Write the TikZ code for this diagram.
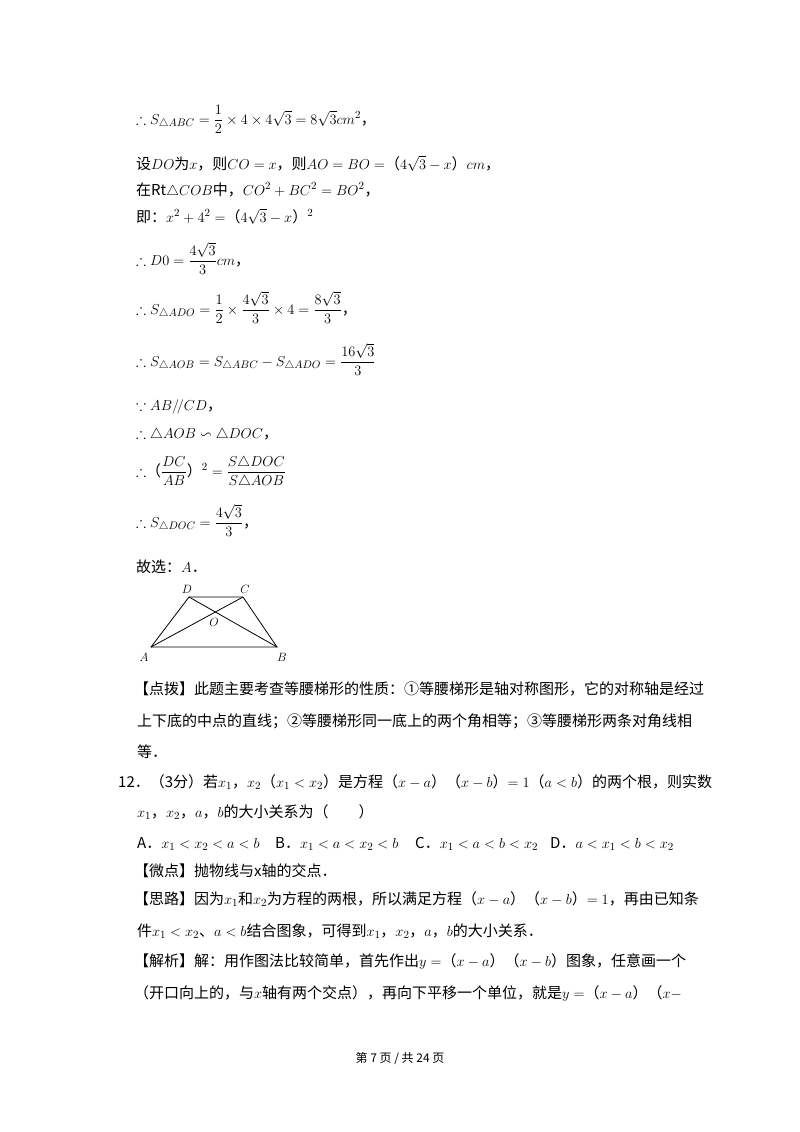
\documentclass[tikz,border=0pt]{standalone}
\usepackage{amsmath,amssymb}
\usepackage{fontspec}
\setmainfont{Noto Sans CJK SC}
\begin{document}
\begin{tikzpicture}[x=1pt,y=-1pt,
  t/.style={anchor=base west,inner sep=0,font=\fontsize{15}{18}\selectfont},
  lab/.style={inner sep=0,font=\fontsize{12}{14}\selectfont}]
\useasboundingbox[fill=white] (0,0) rectangle (800,1132);
\node[t] (l1) at (136,124) {$\therefore S_{\triangle ABC}=\dfrac{1}{2}\times4\times4\sqrt{3}=8\sqrt{3}cm^2$，};
\node[t] (l2) at (136,169) {设$DO$为$x$，则$CO=x$，则$AO=BO=$（$4\sqrt3-x$）$cm$，};
\node[t] (l3) at (136,195) {在$\mathrm{Rt}\triangle COB$中，$CO^2+BC^2=BO^2$，};
\node[t] (l4) at (136,222) {即：$x^2+4^2=$（$4\sqrt3-x$）$^2$};
\node[t] (l5) at (136,265) {$\therefore D0=\dfrac{4\sqrt3}{3}cm$，};
\node[t] (l6) at (136,314) {$\therefore S_{\triangle ADO}=\dfrac12\times\dfrac{4\sqrt3}{3}\times4=\dfrac{8\sqrt3}{3}$，};
\node[t] (l7) at (136,366) {$\therefore S_{\triangle AOB}=S_{\triangle ABC}-S_{\triangle ADO}=\dfrac{16\sqrt3}{3}$};
\node[t] (l8) at (136,410) {$\because AB/\!/CD$，};
\node[t] (l9) at (136,438) {$\therefore\triangle AOB\backsim\triangle DOC$，};
\node[t] (l10) at (136,476) {$\therefore$（$\dfrac{DC}{AB}$）$^2=\dfrac{S\triangle DOC}{S\triangle AOB}$};
\node[t] (l11) at (136,527) {$\therefore S_{\triangle DOC}=\dfrac{4\sqrt3}{3}$，};
\node[t] (l12) at (136,572) {故选：$A$．};
% figure
\coordinate (A) at (151,647);
\coordinate (B) at (277,647);
\coordinate (C) at (243,597);
\coordinate (D) at (189,597);
\draw[thick] (A) -- (B) -- (C) -- (D) -- cycle;
\draw[thick] (A) -- (C);
\draw[thick] (D) -- (B);
\node[lab] (nD) at (187,589) {$D$};
\node[lab] (nC) at (245,589) {$C$};
\node[lab] (nA) at (144,657) {$A$};
\node[lab] (nB) at (282,657) {$B$};
\node[lab] (nO) at (214,622) {$O$};
% text
\node[t] (p1) at (134,694) {【点拨】此题主要考查等腰梯形的性质：①等腰梯形是轴对称图形，它的对称轴是经过};
\node[t] (p2) at (137,726) {上下底的中点的直线；②等腰梯形同一底上的两个角相等；③等腰梯形两条对角线相};
\node[t] (p3) at (137,757) {等．};
\node[t] (q1) at (118,787) {12．（3分）若$x_1$，$x_2$（$x_1<x_2$）是方程（$x-a$）（$x-b$）$=1$（$a<b$）的两个根，则实数};
\node[t] (q2) at (137,817) {$x_1$，$x_2$，$a$，$b$的大小关系为（　　）};
\node[t] (oA) at (137,848) {A．$x_1<x_2<a<b$};
\node[t] (oB) at (275,848) {B．$x_1<a<x_2<b$};
\node[t] (oC) at (415,848) {C．$x_1<a<b<x_2$};
\node[t] (oD) at (550,848) {D．$a<x_1<b<x_2$};
\node[t] (w1) at (134,876) {【微点】抛物线与$\mathrm{x}$轴的交点．};
\node[t] (s1) at (134,904) {【思路】因为$x_1$和$x_2$为方程的两根，所以满足方程（$x-a$）（$x-b$）$=1$，再由已知条};
\node[t] (s2) at (137,936) {件$x_1<x_2$、$a<b$结合图象，可得到$x_1$，$x_2$，$a$，$b$的大小关系．};
\node[t] (j1) at (134,966) {【解析】解：用作图法比较简单，首先作出$y=$（$x-a$）（$x-b$）图象，任意画一个};
\node[t] (j2) at (134,998) {（开口向上的，与$x$轴有两个交点），再向下平移一个单位，就是$y=$（$x-a$）（$x-$};
\node[anchor=base,inner sep=0,font=\fontsize{12}{14}\selectfont] (foot) at (400,1062) {第 7 页 / 共 24 页};
\end{tikzpicture}
\end{document}
